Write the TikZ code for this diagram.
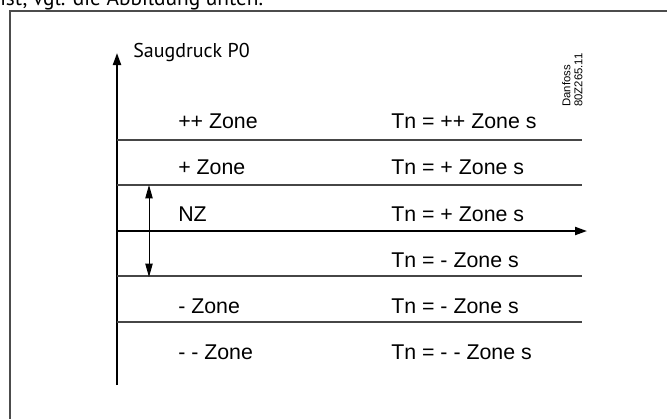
\documentclass[tikz,border=0pt]{standalone}
\usepackage{fontspec}
\setmainfont{Liberation Sans}
\newfontfamily\capfont{PT Sans}
\usetikzlibrary{arrows.meta, positioning}

\begin{document}
\begin{tikzpicture}[
    x=0.75pt, y=-0.75pt,
    lbl/.style={anchor=base west, inner sep=0pt, font=\fontsize{16}{18}\selectfont},
    captext/.style={anchor=base west, inner sep=0pt, font=\capfont\fontsize{15}{17}\selectfont},
    zline/.style={draw=gray!55!black, line width=0.8pt},
    axis/.style={-{Triangle[length=9pt, width=6pt]}, line width=1.5pt},
    nzarr/.style={{Triangle[length=10pt, width=5.5pt]}-{Triangle[length=10pt, width=5.5pt]}, line width=0.7pt},
]
    \useasboundingbox (0,0) rectangle (667,419);

    %==================== FRAME + CAPTION ====================
    \node[captext, font=\capfont\fontsize{16}{18}\selectfont] (intro) at (0,5)
        {ist, vgl. die Abbildung unten.};
    \draw[gray!60!black, line width=1.1pt] (10,419) -- (10,11) -- (667,11);

    %==================== AXES ====================
    \coordinate (ybot) at (117,385);
    \coordinate (ytop) at (117,53);
    \coordinate (xorg) at (117,231);
    \coordinate (xend) at (587,231);
    \draw[axis] (ybot) -- (ytop);
    \draw[axis] (xorg) -- (xend);
    \node[captext] (ylab) at (133,57) {Saugdruck P0};

    %==================== ZONE BORDERS ====================
    \foreach \yy/\nm in {140/pp, 185/p, 276/m, 322/mm} {
        \coordinate (\nm L) at (117,\yy);
        \coordinate (\nm R) at (582,\yy);
        \draw[zline] (\nm L) -- (\nm R);
    }

    % neutral zone span
    \coordinate (nzt) at (149,185);
    \coordinate (nzb) at (149,277);
    \draw[nzarr] (nzt) -- (nzb);

    %==================== ROW LABELS ====================
    \node[lbl] (z1) at (178,128) {++ Zone};
    \node[lbl] (z2) at (178,174) {+ Zone};
    \node[lbl] (z3) at (178,221) {NZ};
    \node[lbl] (z5) at (178,313) {- Zone};
    \node[lbl] (z6) at (178,359) {- - Zone};

    \node[lbl] (t1) at (391,128) {Tn = ++ Zone s};
    \node[lbl] (t2) at (391,174) {Tn = + Zone s};
    \node[lbl] (t3) at (391,221) {Tn = + Zone s};
    \node[lbl] (t4) at (391,267) {Tn = - Zone s};
    \node[lbl] (t5) at (391,313) {Tn = - Zone s};
    \node[lbl] (t6) at (391,359) {Tn = - - Zone s};

    % drawing number
    \node[rotate=90, anchor=north west, align=left, inner sep=0pt,
          font=\fontsize{8.5}{9}\selectfont] (dno) at (562,107)
        {Danfoss\\80Z265.11};

\end{tikzpicture}
\end{document}
